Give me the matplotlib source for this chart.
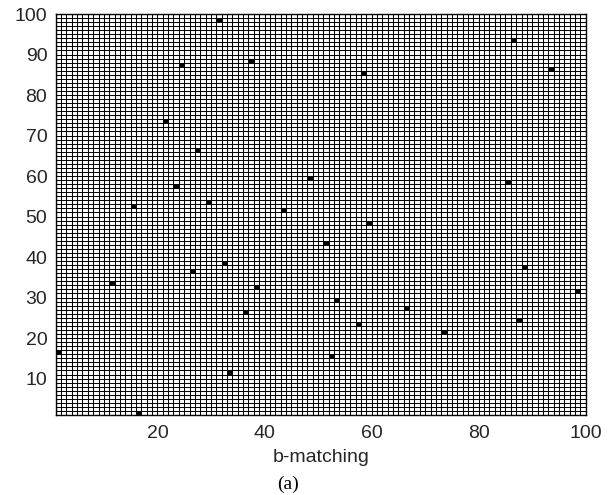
"""Sparsity pattern of a b-matching solution drawn as a pcolor grid."""

import matplotlib.pyplot as plt
import numpy as np
from matplotlib.colors import ListedColormap

n = 100

# matched (column, row) pairs, 1-based indices
match_cols = [31, 24, 37, 21, 27, 23, 29, 15, 43, 48, 86, 58, 93, 85, 11, 26,
              32, 38, 36, 1, 33, 16, 59, 51, 88, 98, 53, 66, 57, 73, 87, 52]
match_rows = [98, 87, 88, 73, 66, 57, 53, 52, 51, 59, 93, 85, 86, 58, 33, 36,
              38, 32, 26, 16, 11, 1, 48, 43, 37, 31, 29, 27, 23, 21, 24, 15]

xticks = [20, 40, 60, 80, 100]
yticks = [10, 20, 30, 40, 50, 60, 70, 80, 90, 100]

M = np.zeros((n, n))
for c, r in zip(match_cols, match_rows):
    M[r - 1, c - 1] = 1

idx = np.arange(1, n + 1)

fig = plt.figure(figsize=(6.16, 4.95), dpi=100)
ax = fig.add_axes([0.0904, 0.1616, 0.8606, 0.8101])

# like matlab's pcolor: the last row/column of the matrix is not shown
ax.pcolormesh(idx, idx, M[:-1, :-1], cmap=ListedColormap(["white", "black"]),
              vmin=0, vmax=1)
# cell edges
ax.vlines(idx, 1, n, colors="black", linewidth=0.75)
ax.hlines(idx, 1, n, colors="black", linewidth=0.75)

ax.set_xlim(1, n)
ax.set_ylim(1, n)
ax.set_xticks(xticks)
ax.set_yticks(yticks)
ax.tick_params(direction="in", length=0, labelsize=14, labelcolor="#262626")
ax.tick_params(axis="x", pad=7)
ax.tick_params(axis="y", pad=6)
for lab in ax.get_xticklabels() + ax.get_yticklabels():
    lab.set_family("Liberation Sans")
for s in ax.spines.values():
    s.set_linewidth(1.0)

ax.set_xlabel("b-matching", fontsize=14, family="Liberation Sans",
              color="#262626", labelpad=5)
fig.text(0.468, 0.004, "(a)", fontsize=14, family="Liberation Serif",
         ha="center", va="bottom")

fig.savefig("out.png", dpi=100)
